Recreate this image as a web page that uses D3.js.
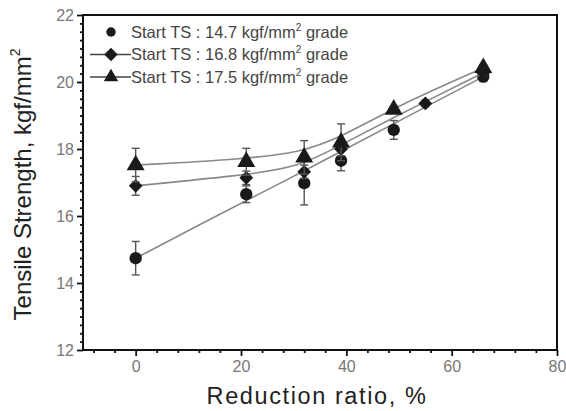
<!DOCTYPE html>
<html>
<head>
<meta charset="utf-8">
<script src="https://cdn.jsdelivr.net/npm/d3@7"></script>
<style>
  body { margin: 0; background: #fff; }
  text { font-family: Arial, "Liberation Sans", sans-serif; }
</style>
</head>
<body>
<div id="chart"></div>
<script>
// reduction ratio (%) for each series
var circleX = [0, 21, 32, 39, 49, 66];
var circleY = [14.74, 16.65, 16.98, 17.65, 18.57, 20.16];
var circleErr = [0.5, 0.25, 0.65, 0.3, 0.28, 0.15];

var diamondX = [0, 21, 32, 39, 55, 66];
var diamondY = [16.9, 17.14, 17.32, 18.0, 19.36, 20.27];
var diamondErr = [0.28, 0.2, 0.2, 0.2, 0.1, 0.1];

var triangleX = [0, 21, 32, 39, 49, 66];
var triangleY = [17.52, 17.62, 17.75, 18.2, 19.18, 20.42];
var triangleErr = [0.5, 0.4, 0.5, 0.55, 0.1, 0.1];

var xTicks = [0, 20, 40, 60, 80];
var yTicks = [12, 14, 16, 18, 20, 22];

var legendLabels = ['Start TS : 14.7 kgf/mm', 'Start TS : 16.8 kgf/mm', 'Start TS : 17.5 kgf/mm'];

var width = 566, height = 411;
var margin = { left: 83, right: 9, top: 15, bottom: 61 };

var svg = d3.select('#chart').append('svg')
            .attr('width', width)
            .attr('height', height);

var x = d3.scaleLinear().domain([-10, 80]).range([margin.left, width - margin.right]);
var y = d3.scaleLinear().domain([12, 22]).range([height - margin.bottom, margin.top]);

// minor ticks every 4 on x and every 0.25 on y
var xMinor = d3.range(-8, 80.1, 4).filter(function(v) { return xTicks.indexOf(v) < 0; });
var yMinor = d3.range(12, 22.01, 0.25).filter(function(v) { return Math.abs(v - Math.round(v / 2) * 2) > 0.01; });

svg.append('g')
   .attr('transform', 'translate(0,' + y(12) + ')')
   .call(d3.axisBottom(x).tickValues(xTicks).tickSize(6).tickPadding(5).tickFormat(d3.format('d')));
svg.append('g')
   .attr('transform', 'translate(0,' + y(12) + ')')
   .call(d3.axisBottom(x).tickValues(xMinor).tickSize(3).tickFormat(''));

svg.append('g')
   .attr('transform', 'translate(' + x(-10) + ',0)')
   .call(d3.axisLeft(y).tickValues(yTicks).tickSize(6).tickPadding(3).tickFormat(d3.format('d')));
svg.append('g')
   .attr('transform', 'translate(' + x(-10) + ',0)')
   .call(d3.axisLeft(y).tickValues(yMinor).tickSize(3).tickFormat(''));

svg.selectAll('.domain').remove();
svg.selectAll('.tick line').attr('stroke', '#111').attr('stroke-width', 1.8);
svg.selectAll('.tick text').attr('fill', '#777').style('font-size', '16px');

// frame
svg.append('rect')
   .attr('x', x(-10)).attr('y', y(22))
   .attr('width', x(80) - x(-10)).attr('height', y(12) - y(22))
   .attr('fill', 'none').attr('stroke', '#111').attr('stroke-width', 2);

// axis titles
svg.append('text')
   .attr('x', (x(-10) + x(80)) / 2 - 3).attr('y', 404)
   .attr('text-anchor', 'middle')
   .style('font-size', '23.5px').style('letter-spacing', '1.6px')
   .attr('fill', '#222')
   .text('Reduction ratio, %');

var yTitle = svg.append('text')
   .attr('transform', 'translate(31,' + ((y(12) + y(22)) / 2 + 2) + ') rotate(-90)')
   .attr('text-anchor', 'middle')
   .style('font-size', '24px')
   .attr('fill', '#222');
yTitle.append('tspan').text('Tensile Strength, kgf/mm');
yTitle.append('tspan').attr('dy', -11).style('font-size', '14px').text('2');

var series = [
  { xs: circleX, ys: circleY, err: circleErr, shape: d3.symbolCircle, size: 120, rot: 0, beta: 0.05, legendLine: false },
  { xs: diamondX, ys: diamondY, err: diamondErr, shape: d3.symbolSquare, size: 95, rot: 45, beta: 0.85, legendLine: true },
  { xs: triangleX, ys: triangleY, err: triangleErr, shape: d3.symbolTriangle, size: 140, rot: 0, beta: 0.85, legendLine: true }
];

series.forEach(function(s) {
  var pts = s.xs.map(function(v, i) { return [v, s.ys[i], s.err[i]]; });

  var line = d3.line()
               .x(function(d) { return x(d[0]); })
               .y(function(d) { return y(d[1]); })
               .curve(d3.curveBundle.beta(s.beta));

  svg.append('path')
     .attr('d', line(pts))
     .attr('fill', 'none')
     .attr('stroke', '#888')
     .attr('stroke-width', 1.6);

  var eb = svg.append('g').selectAll('g').data(pts).enter().append('g')
              .attr('stroke', '#555').attr('stroke-width', 1.4);
  eb.append('line')
    .attr('x1', function(d) { return x(d[0]); }).attr('x2', function(d) { return x(d[0]); })
    .attr('y1', function(d) { return y(d[1] - d[2]); }).attr('y2', function(d) { return y(d[1] + d[2]); });
  [-1, 1].forEach(function(sign) {
    eb.append('line')
      .attr('x1', function(d) { return x(d[0]) - 4; }).attr('x2', function(d) { return x(d[0]) + 4; })
      .attr('y1', function(d) { return y(d[1] + sign * d[2]); }).attr('y2', function(d) { return y(d[1] + sign * d[2]); });
  });

  svg.append('g').selectAll('path').data(pts).enter().append('path')
     .attr('d', d3.symbol().type(s.shape).size(s.size))
     .attr('transform', function(d) { return 'translate(' + x(d[0]) + ',' + y(d[1]) + ') rotate(' + s.rot + ')'; })
     .attr('fill', '#1a1a1a');
});

// legend
var legend = svg.append('g');
series.forEach(function(s, i) {
  var ly = 32 + i * 22.5;
  if (s.legendLine) {
    legend.append('line')
          .attr('x1', 90).attr('x2', 131).attr('y1', ly).attr('y2', ly)
          .attr('stroke', '#444').attr('stroke-width', 1.4);
  }
  legend.append('path')
        .attr('d', d3.symbol().type(s.shape).size(i === 0 ? 70 : 90))
        .attr('transform', 'translate(111,' + ly + ') rotate(' + s.rot + ')')
        .attr('fill', '#1a1a1a');
  var t = legend.append('text')
                .attr('x', 131).attr('y', ly + 5.5)
                .style('font-size', '16.5px')
                .attr('fill', '#444');
  t.append('tspan').text(legendLabels[i]);
  t.append('tspan').attr('dy', -7).style('font-size', '10px').text('2');
  t.append('tspan').attr('dy', 7).text(' grade');
});
</script>
</body>
</html>
